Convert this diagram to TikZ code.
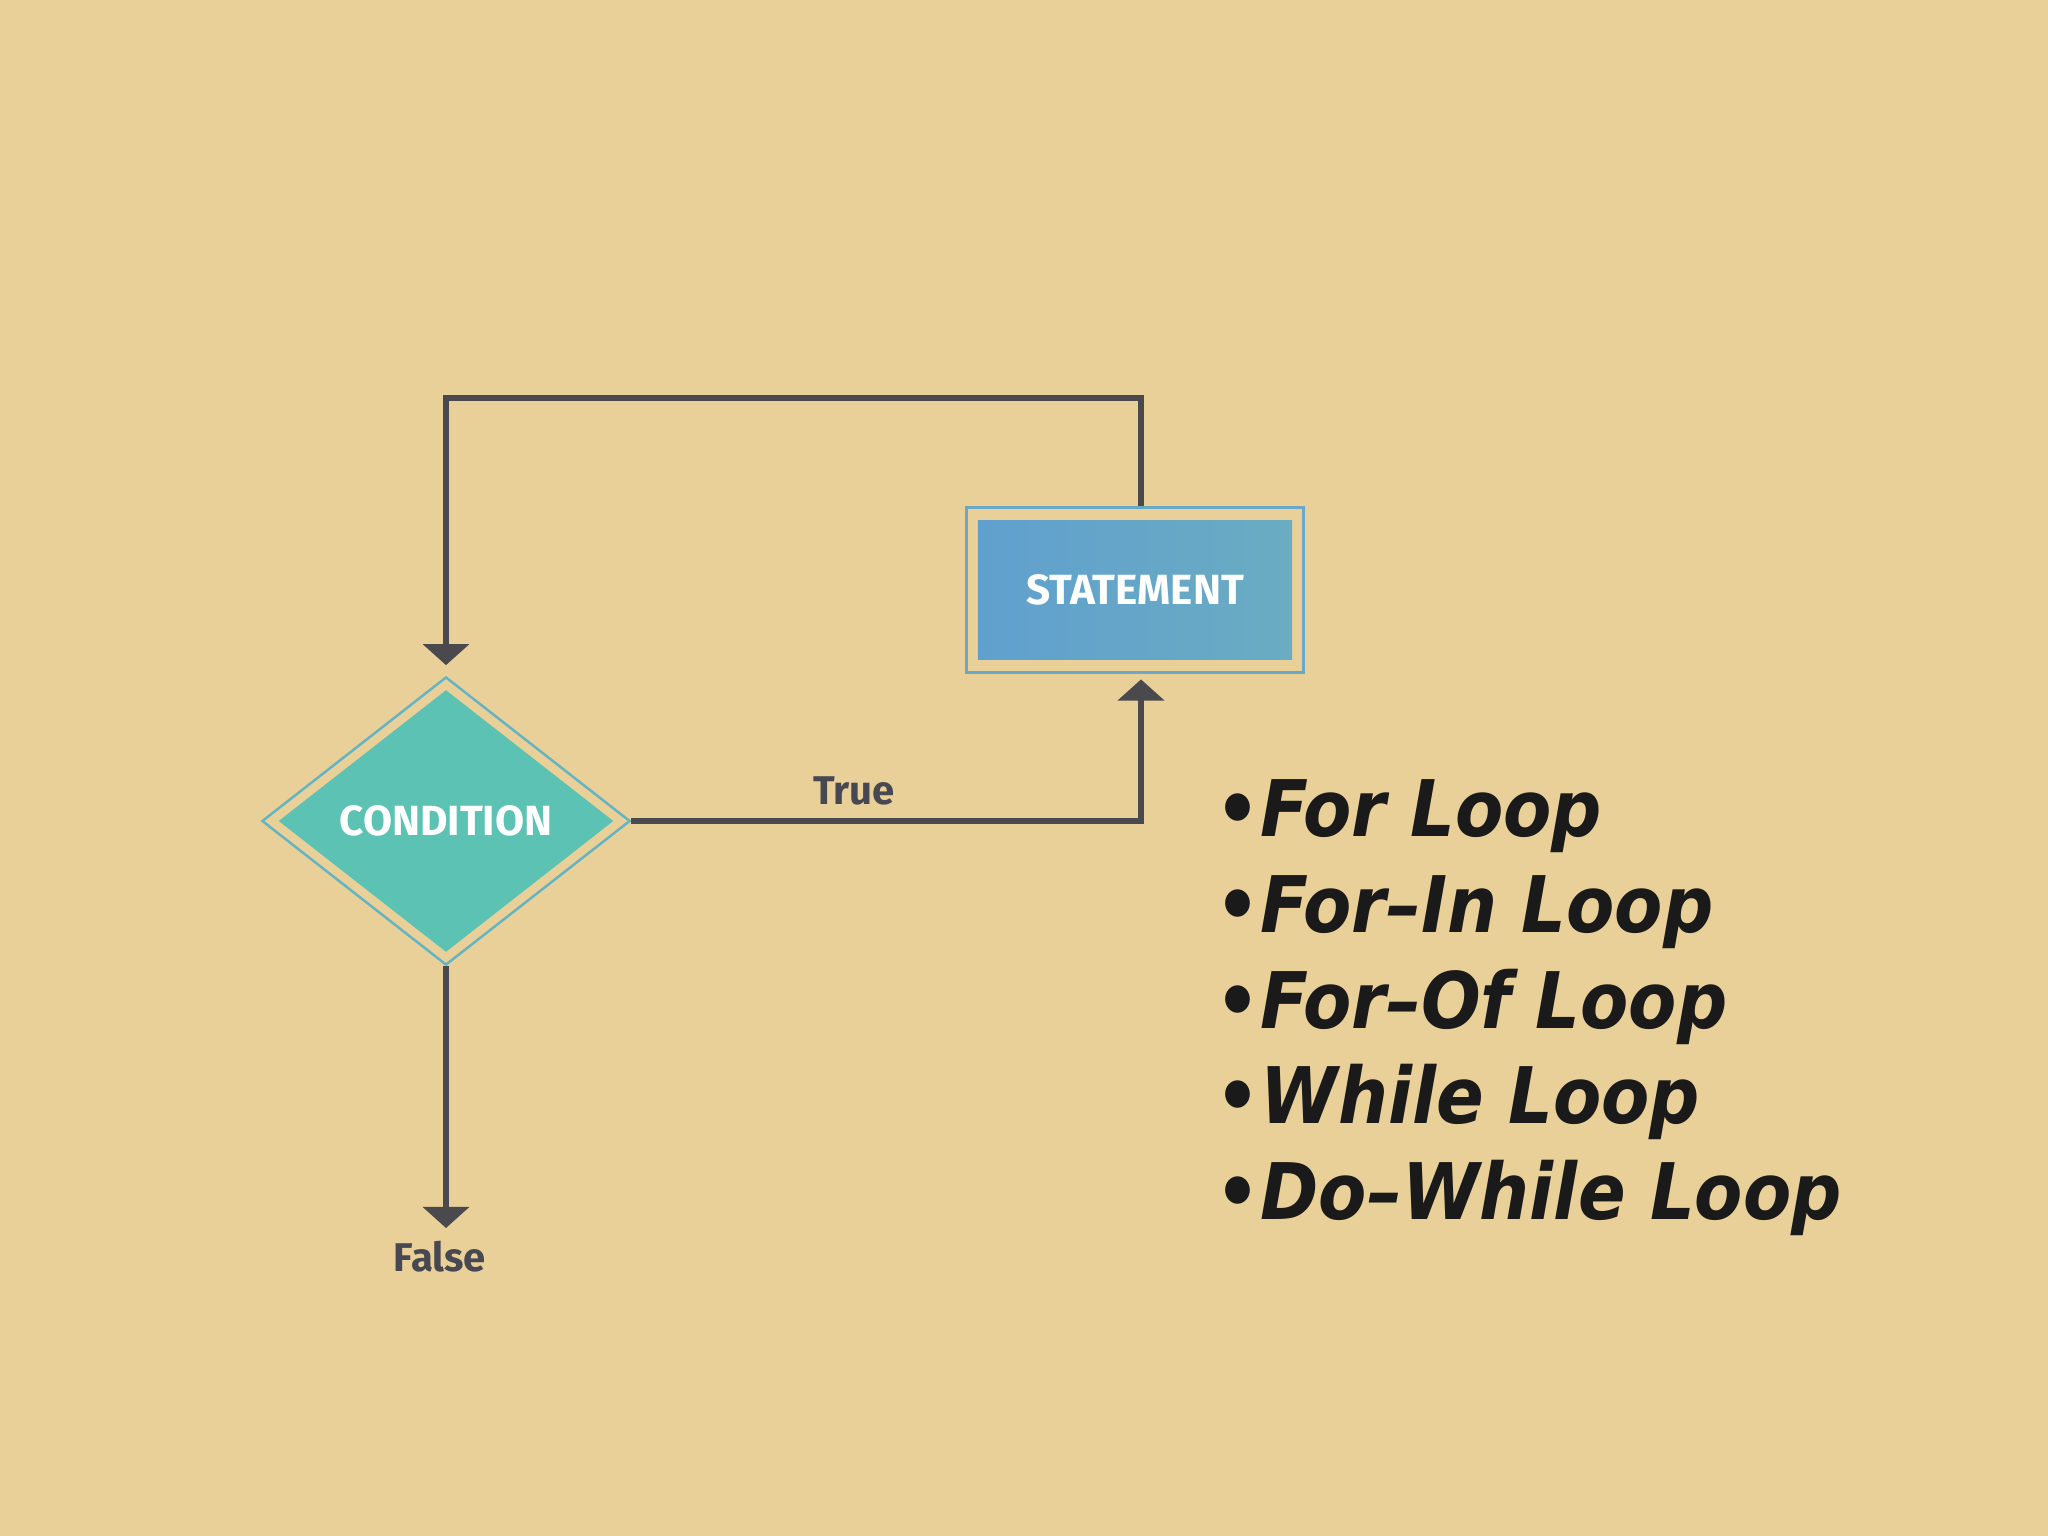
\documentclass[tikz,border=0pt]{standalone}
\usepackage{fontspec}
\usetikzlibrary{shapes.geometric,arrows.meta,shadings}
\newfontfamily\listfont[FakeStretch=0.9]{DejaVu Sans}
\newfontfamily\labelfont{Fira Sans}
\definecolor{bgbeige}{RGB}{233,208,152}
\definecolor{linegray}{RGB}{74,74,78}
\definecolor{labelgray}{RGB}{72,72,82}
\definecolor{teal}{RGB}{92,195,180}
\definecolor{tealline}{RGB}{100,180,196}
\definecolor{stmtL}{RGB}{96,160,206}
\definecolor{stmtR}{RGB}{106,172,194}
\definecolor{stmtline}{RGB}{106,168,200}
\definecolor{listtext}{RGB}{26,26,26}
\tikzset{
  conn/.style={draw=linegray, line width=1.7pt},
  arr/.style={conn, -{Triangle[width=13pt,length=6pt]}},
  boxtext/.style={font=\labelfont\bfseries\fontsize{12}{14}\selectfont, text=white},
  lbl/.style={font=\labelfont\bfseries\fontsize{11.4}{14}\selectfont, text=labelgray},
  listitem/.style={anchor=base west, inner sep=0pt, text=listtext,
    font=\listfont\bfseries\itshape\fontsize{22.2}{27}\selectfont}
}
\begin{document}
\begin{tikzpicture}[x=0.01cm,y=-0.01cm]
\useasboundingbox (0,0) rectangle (2048,1536);
\fill[bgbeige] (0,0) rectangle (2048,1536);

% condition diamond
\node[shape=diamond, draw=tealline, line width=0.7pt, inner sep=0pt,
      minimum width=3.68cm, minimum height=2.88cm] (condouter) at (446,821) {};
\node[shape=diamond, fill=teal, inner sep=0pt,
      minimum width=3.35cm, minimum height=2.62cm, boxtext] (cond) at (446,821) {CONDITION};

% statement box
\node[draw=stmtline, line width=0.9pt, minimum width=3.36cm, minimum height=1.65cm,
      inner sep=0pt] (stmtouter) at (1135,590) {};
\node[left color=stmtL, right color=stmtR, minimum width=3.14cm, minimum height=1.39cm,
      inner sep=0pt, boxtext] (stmt) at (1135,590) {STATEMENT};

% connectors
\coordinate (looptop) at (446,398);
\coordinate (falsetip) at (446,1228);
\draw[arr, shorten >=3pt] ([xshift=0.06cm]stmtouter.north) |- (looptop) -- (condouter.north);
\draw[arr, shorten >=1.5pt] (condouter.east) -| ([xshift=0.06cm]stmtouter.south);
\draw[arr] (condouter.south) -- (falsetip);

% labels
\node[lbl] (truelbl) at (854,791) {True};
\node[lbl] (falselbl) at (440,1257) {False};

% bullet list
\node[listitem] (l1) at (1215,836) {•For Loop};
\node[listitem] (l2) at (1215,932) {•For–In Loop};
\node[listitem] (l3) at (1215,1028) {•For–Of Loop};
\node[listitem] (l4) at (1215,1123) {•While Loop};
\node[listitem] (l5) at (1215,1219) {•Do–While Loop};
\end{tikzpicture}
\end{document}
